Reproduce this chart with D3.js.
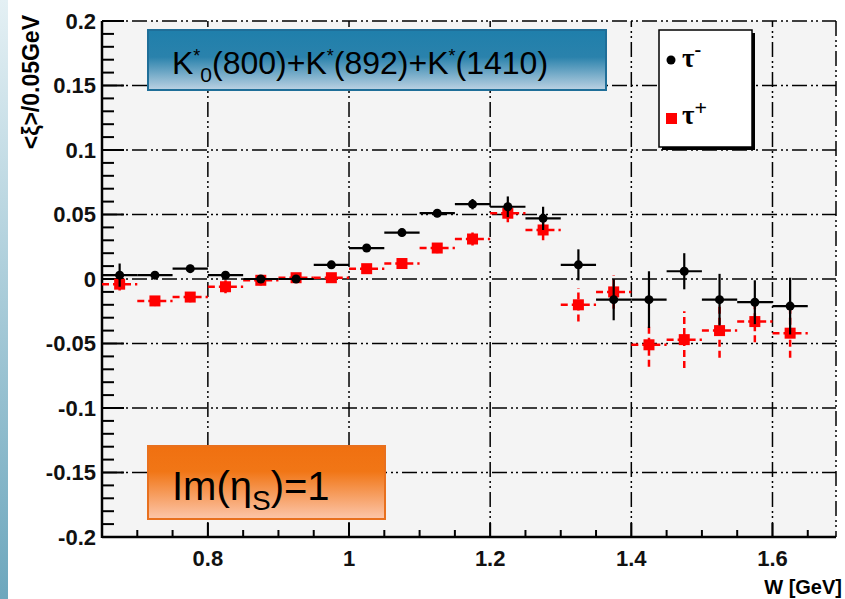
<!DOCTYPE html>
<html>
<head>
<meta charset="utf-8">
<script src="https://cdn.jsdelivr.net/npm/d3@7"></script>
<style>
  body { margin: 0; background: #fff; }
  svg { display: block; }
</style>
</head>
<body>
<script>
// bin centres in W [GeV]
const binCenters = [0.675, 0.725, 0.775, 0.825, 0.875, 0.925, 0.975, 1.025, 1.075, 1.125,
                    1.175, 1.225, 1.275, 1.325, 1.375, 1.425, 1.475, 1.525, 1.575, 1.625];
const binHalfWidth = 0.025;

// tau- (black dots)
const tauMinus    = [0.003, 0.003, 0.008, 0.003, 0.000, 0.000, 0.011, 0.024, 0.036, 0.051,
                     0.058, 0.056, 0.047, 0.011, -0.016, -0.016, 0.006, -0.016, -0.018, -0.021];
const tauMinusErr = [0.009, 0.003, 0.003, 0.003, 0.003, 0.003, 0.003, 0.003, 0.003, 0.003,
                     0.004, 0.008, 0.009, 0.012, 0.016, 0.022, 0.014, 0.020, 0.017, 0.022];

// tau+ (red squares)
const tauPlus     = [-0.004, -0.017, -0.014, -0.006, -0.001, 0.001, 0.001, 0.008, 0.012, 0.024,
                     0.031, 0.051, 0.038, -0.020, -0.010, -0.051, -0.047, -0.040, -0.033, -0.042];
const tauPlusErr  = [0.005, 0.004, 0.004, 0.005, 0.004, 0.004, 0.004, 0.004, 0.004, 0.004,
                     0.005, 0.007, 0.008, 0.013, 0.013, 0.017, 0.022, 0.021, 0.016, 0.019];

const xTicks = [0.8, 1.0, 1.2, 1.4, 1.6];
const xTickLabels = ["0.8", "1", "1.2", "1.4", "1.6"];
const yTicks = [-0.2, -0.15, -0.1, -0.05, 0, 0.05, 0.1, 0.15, 0.2];
const yTickLabels = ["-0.2", "-0.15", "-0.1", "-0.05", "0", "0.05", "0.1", "0.15", "0.2"];

const width = 845, height = 599;
const frame = { left: 102, right: 836, top: 21, bottom: 537 };

const svg = d3.select("body").append("svg")
  .attr("width", width)
  .attr("height", height);

const defs = svg.append("defs");

// slide strip on the left
const stripGrad = defs.append("linearGradient").attr("id", "strip")
  .attr("x1", 0).attr("y1", 0).attr("x2", 0).attr("y2", 1);
stripGrad.append("stop").attr("offset", "0%").attr("stop-color", "#e4f0f4");
stripGrad.append("stop").attr("offset", "100%").attr("stop-color", "#6da7bd");

const blueGrad = defs.append("linearGradient").attr("id", "blueBox")
  .attr("x1", 0).attr("y1", 0).attr("x2", 0).attr("y2", 1);
blueGrad.append("stop").attr("offset", "0%").attr("stop-color", "#1f7fab");
blueGrad.append("stop").attr("offset", "45%").attr("stop-color", "#2a82ac");
blueGrad.append("stop").attr("offset", "100%").attr("stop-color", "#bcd2e3");

const orangeGrad = defs.append("linearGradient").attr("id", "orangeBox")
  .attr("x1", 0).attr("y1", 0).attr("x2", 0).attr("y2", 1);
orangeGrad.append("stop").attr("offset", "0%").attr("stop-color", "#f07010");
orangeGrad.append("stop").attr("offset", "35%").attr("stop-color", "#f17616");
orangeGrad.append("stop").attr("offset", "100%").attr("stop-color", "#fcc6ab");

svg.append("rect")
  .attr("x", 0).attr("y", 0).attr("width", 8).attr("height", height)
  .attr("fill", "url(#strip)");

// scales
const x = d3.scaleLinear().domain([0.65, 1.69]).range([frame.left, frame.right]);
const y = d3.scaleLinear().domain([-0.2, 0.2]).range([frame.bottom, frame.top]);

// plot background
svg.append("rect")
  .attr("x", frame.left).attr("y", frame.top)
  .attr("width", frame.right - frame.left).attr("height", frame.bottom - frame.top)
  .attr("fill", "#f4f4f4");

const gridDash = "15,4,2,3,2,4";

// grid
svg.append("g").selectAll("line")
  .data(yTicks)
  .enter().append("line")
  .attr("x1", frame.left).attr("x2", frame.right)
  .attr("y1", d => y(d)).attr("y2", d => y(d))
  .attr("stroke", "#000").attr("stroke-width", 1.5)
  .attr("stroke-dasharray", gridDash);

svg.append("g").selectAll("line")
  .data(xTicks)
  .enter().append("line")
  .attr("x1", d => x(d)).attr("x2", d => x(d))
  .attr("y1", frame.bottom).attr("y2", frame.top)
  .attr("stroke", "#000").attr("stroke-width", 1.5)
  .attr("stroke-dasharray", gridDash);

// right edge
svg.append("line")
  .attr("x1", frame.right).attr("x2", frame.right)
  .attr("y1", frame.top).attr("y2", frame.bottom)
  .attr("stroke", "#000").attr("stroke-width", 1.5)
  .attr("stroke-dasharray", gridDash);

// y axis ticks
const yMinor = d3.range(-20, 21).map(i => i / 100);
svg.append("g").selectAll("line")
  .data(yMinor)
  .enter().append("line")
  .attr("x1", frame.left)
  .attr("x2", d => frame.left + (Math.abs(Math.round(d * 100)) % 5 === 0 ? 22 : 12))
  .attr("y1", d => y(d)).attr("y2", d => y(d))
  .attr("stroke", "#000").attr("stroke-width", 2);

// x axis ticks
const xMinor = d3.range(13, 34).map(i => i * 0.05);
svg.append("g").selectAll("line")
  .data(xMinor)
  .enter().append("line")
  .attr("x1", d => x(d)).attr("x2", d => x(d))
  .attr("y1", frame.bottom)
  .attr("y2", d => frame.bottom - (Math.round(d * 20) % 4 === 0 ? 14 : 7))
  .attr("stroke", "#000").attr("stroke-width", 2);

// axis lines
svg.append("line")
  .attr("x1", frame.left).attr("x2", frame.left)
  .attr("y1", frame.top).attr("y2", frame.bottom + 1)
  .attr("stroke", "#000").attr("stroke-width", 2.5);
svg.append("line")
  .attr("x1", frame.left).attr("x2", frame.right)
  .attr("y1", frame.bottom).attr("y2", frame.bottom)
  .attr("stroke", "#000").attr("stroke-width", 2.5);

// tick labels
const textFont = "'Liberation Sans', Arial, sans-serif";
svg.append("g").selectAll("text")
  .data(yTicks)
  .enter().append("text")
  .attr("x", 96)
  .attr("y", d => y(d))
  .attr("dy", "0.36em")
  .attr("text-anchor", "end")
  .style("font-family", textFont)
  .style("font-weight", "bold")
  .style("font-size", "22px")
  .style("fill", "#111")
  .text((d, i) => yTickLabels[i]);

svg.append("g").selectAll("text")
  .data(xTicks)
  .enter().append("text")
  .attr("x", d => x(d))
  .attr("y", 566)
  .attr("text-anchor", "middle")
  .style("font-family", textFont)
  .style("font-weight", "bold")
  .style("font-size", "22px")
  .style("fill", "#111")
  .text((d, i) => xTickLabels[i]);

// axis titles
svg.append("text")
  .attr("x", 842).attr("y", 594)
  .attr("text-anchor", "end")
  .style("font-family", textFont)
  .style("font-weight", "bold")
  .style("font-size", "20px")
  .text("W [GeV]");

svg.append("text")
  .attr("transform", "translate(39,15) rotate(-90)")
  .attr("text-anchor", "end")
  .style("font-family", textFont)
  .style("font-weight", "bold")
  .style("font-size", "23px")
  .text("<ξ>/0.05GeV");

// tau+ (red, dashed error bars)
const plus = binCenters.map((c, i) => ({ c: c, v: tauPlus[i], e: tauPlusErr[i] }));
const minus = binCenters.map((c, i) => ({ c: c, v: tauMinus[i], e: tauMinusErr[i] }));

const gPlus = svg.append("g");
gPlus.selectAll(".hbar").data(plus).enter().append("line")
  .attr("x1", d => x(d.c - binHalfWidth)).attr("x2", d => x(d.c + binHalfWidth))
  .attr("y1", d => y(d.v)).attr("y2", d => y(d.v))
  .attr("stroke", "#ff0000").attr("stroke-width", 2.5)
  .attr("stroke-dasharray", "7,4");
gPlus.selectAll(".vbar").data(plus).enter().append("line")
  .attr("x1", d => x(d.c)).attr("x2", d => x(d.c))
  .attr("y1", d => y(d.v - d.e)).attr("y2", d => y(d.v + d.e))
  .attr("stroke", "#ff0000").attr("stroke-width", 2.5)
  .attr("stroke-dasharray", "7,4");

// tau- (black, solid error bars)
const gMinus = svg.append("g");
gMinus.selectAll(".hbar").data(minus).enter().append("line")
  .attr("x1", d => x(d.c - binHalfWidth)).attr("x2", d => x(d.c + binHalfWidth))
  .attr("y1", d => y(d.v)).attr("y2", d => y(d.v))
  .attr("stroke", "#000").attr("stroke-width", 2.2);
gMinus.selectAll(".vbar").data(minus).enter().append("line")
  .attr("x1", d => x(d.c)).attr("x2", d => x(d.c))
  .attr("y1", d => y(d.v - d.e)).attr("y2", d => y(d.v + d.e))
  .attr("stroke", "#000").attr("stroke-width", 2.2);
gMinus.selectAll("circle").data(minus).enter().append("circle")
  .attr("cx", d => x(d.c)).attr("cy", d => y(d.v))
  .attr("r", 4.5)
  .attr("fill", "#000");

// red squares drawn on top
gPlus.selectAll("rect").data(plus).enter().append("rect")
  .attr("x", d => x(d.c) - 5.5).attr("y", d => y(d.v) - 5.5)
  .attr("width", 11).attr("height", 11)
  .attr("fill", "#ff0000");

// title box
svg.append("rect")
  .attr("x", 148).attr("y", 30).attr("width", 458).attr("height", 60)
  .attr("fill", "url(#blueBox)")
  .attr("stroke", "#1f6e98").attr("stroke-width", 2);

const title = svg.append("text")
  .attr("x", 172).attr("y", 74)
  .style("font-family", textFont)
  .style("font-size", "32px")
  .style("fill", "#000");
title.append("tspan").text("K");
title.append("tspan").attr("dy", -12).style("font-size", "18px").text("*");
title.append("tspan").attr("dy", 20).style("font-size", "21px").text("0");
title.append("tspan").attr("dy", -8).text("(800)+K");
title.append("tspan").attr("dy", -12).style("font-size", "18px").text("*");
title.append("tspan").attr("dy", 12).text("(892)+K");
title.append("tspan").attr("dy", -12).style("font-size", "18px").text("*");
title.append("tspan").attr("dy", 12).text("(1410)");

// legend
svg.append("rect")
  .attr("x", 662).attr("y", 33).attr("width", 93).attr("height", 117)
  .attr("fill", "#000");
svg.append("rect")
  .attr("x", 659).attr("y", 30).attr("width", 93).attr("height", 117)
  .attr("fill", "#fff")
  .attr("stroke", "#000").attr("stroke-width", 1.5);

svg.append("circle")
  .attr("cx", 671).attr("cy", 60).attr("r", 4.5)
  .attr("fill", "#000");
svg.append("rect")
  .attr("x", 666).attr("y", 113).attr("width", 11).attr("height", 11)
  .attr("fill", "#ff0000");

const legFont = "'Liberation Serif', 'Times New Roman', serif";
const lm = svg.append("text")
  .attr("x", 682).attr("y", 67)
  .style("font-family", legFont)
  .style("font-weight", "bold")
  .style("font-size", "27px");
lm.append("tspan").text("τ");
lm.append("tspan").attr("dy", -11).style("font-size", "20px").text("-");

const lp = svg.append("text")
  .attr("x", 682).attr("y", 124)
  .style("font-family", legFont)
  .style("font-weight", "bold")
  .style("font-size", "27px");
lp.append("tspan").text("τ");
lp.append("tspan").attr("dy", -9).style("font-size", "22px").text("+");

// Im(eta_S) box
svg.append("rect")
  .attr("x", 148).attr("y", 446).attr("width", 237).attr("height", 73)
  .attr("fill", "url(#orangeBox)")
  .attr("stroke", "#e8701e").attr("stroke-width", 2);

const im = svg.append("text")
  .attr("x", 172).attr("y", 500)
  .style("font-family", textFont)
  .style("font-size", "40px")
  .style("fill", "#000");
im.append("tspan").text("Im(η");
im.append("tspan").attr("dy", 10).style("font-size", "28px").text("S");
im.append("tspan").attr("dy", -10).text(")=1");
</script>
</body>
</html>
